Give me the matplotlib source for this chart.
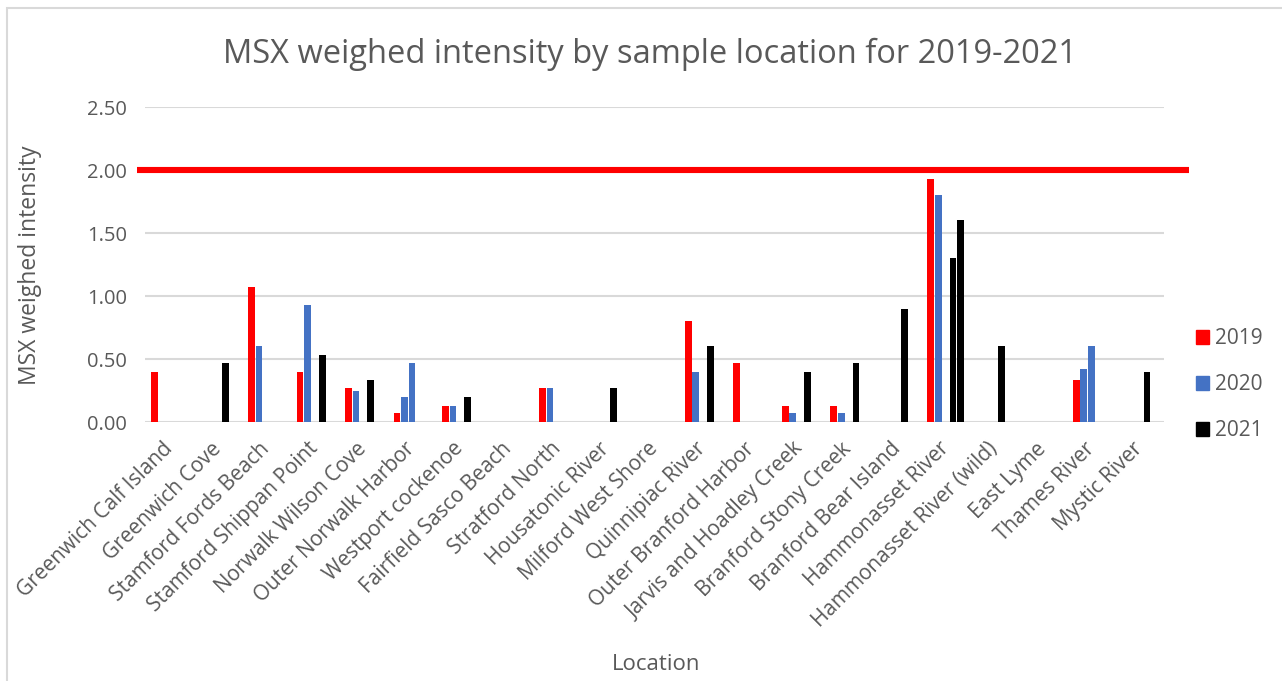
import numpy as np
import matplotlib.pyplot as plt
from matplotlib.patches import Patch, Rectangle
import matplotlib.transforms as mtransforms

plt.rcParams['font.family'] = ['Open Sans', 'DejaVu Sans']

locations = ['Greenwich Calf Island', 'Greenwich Cove', 'Stamford Fords Beach',
             'Stamford Shippan Point', 'Norwalk Wilson Cove', 'Outer Norwalk Harbor',
             'Westport cockenoe', 'Fairfield Sasco Beach', 'Stratford North',
             'Housatonic River', 'Milford West Shore', 'Quinnipiac River',
             'Outer Branford Harbor', 'Jarvis and Hoadley Creek', 'Branford Stony Creek',
             'Branford Bear Island', 'Hammonasset River', 'Hammonasset River (wild)',
             'East Lyme', 'Thames River', 'Mystic River']

# five bar series (2020 and 2021 each have a second sample column)
y2019 = [0.40, 0, 1.07, 0.40, 0.27, 0.07, 0.13, 0, 0.27, 0, 0, 0.80, 0.47, 0.13, 0.13, 0, 1.93, 0, 0, 0.33, 0]
y2020 = [0, 0, 0.60, 0.93, 0.25, 0.20, 0.13, 0, 0.27, 0, 0, 0.40, 0, 0.07, 0.07, 0, 1.80, 0, 0, 0.42, 0]
y2020b = [0, 0, 0, 0, 0, 0.47, 0, 0, 0, 0, 0, 0, 0, 0, 0, 0, 0, 0, 0, 0.60, 0]
y2021 = [0, 0.47, 0, 0.53, 0.33, 0, 0.20, 0, 0, 0.27, 0, 0.60, 0, 0.40, 0.47, 0.90, 1.30, 0.60, 0, 0, 0.40]
y2021b = [0, 0, 0, 0, 0, 0, 0, 0, 0, 0, 0, 0, 0, 0, 0, 0, 1.60, 0, 0, 0, 0]
threshold = 2.0

red = '#FF0000'
blue = '#4472C4'
black = '#000000'
txt = '#595959'
grid = '#D9D9D9'

series = [(y2019, red), (y2020, blue), (y2020b, blue), (y2021, black), (y2021b, black)]

fig = plt.figure(figsize=(12.82, 6.81), dpi=100)
ax = fig.add_axes([145/1282, 1-422/681, 1019/1282, 315/681])

x = np.arange(len(locations))
slot = 1 / 6.55
for i, (vals, c) in enumerate(series):
    ax.bar(x + (i - 2) * slot, vals, width=slot * 0.9, color=c, linewidth=0, zorder=3)

# threshold line runs a little past the plot area
trans = mtransforms.blended_transform_factory(ax.transAxes, ax.transData)
ax.plot([-8/1019, 1044/1019], [threshold, threshold], color=red, lw=4.4,
        transform=trans, clip_on=False, zorder=4, solid_capstyle='butt')

ax.set_xlim(-0.5, len(locations) - 0.5)
ax.set_ylim(0, 2.5)
ax.set_yticks(np.arange(0, 2.51, 0.5))
ax.set_yticklabels(['%.2f' % v for v in np.arange(0, 2.51, 0.5)])
ax.yaxis.grid(True, color=grid, lw=1.5, zorder=0)
ax.set_axisbelow(True)
for s in ax.spines.values():
    s.set_visible(False)
ax.tick_params(length=0, colors=txt, labelsize=14.5)
ax.tick_params(axis='y', pad=13)
ax.set_xticks(x)
ax.set_xticklabels(locations, rotation=45, ha='right', rotation_mode='anchor',
                   va='center', fontsize=15, color=txt)
ax.tick_params(axis='x', pad=17)

fig.text(650/1282, 1-54/681, 'MSX weighed intensity by sample location for 2019-2021',
         ha='center', va='center', fontsize=23.5, color=txt)
fig.text(30/1282, 1-265/681, 'MSX weighed intensity', rotation=90, ha='center',
         va='center', fontsize=16.5, color=txt)
fig.text(656/1282, 1-665/681, 'Location', ha='center', va='center', fontsize=16, color=txt)

handles = [Patch(color=red, label='2019'), Patch(color=blue, label='2020'),
           Patch(color=black, label='2021')]
fig.legend(handles=handles, loc='center left', bbox_to_anchor=(1177/1282, 1-385/681),
           frameon=False, fontsize=15, labelcolor=txt, handlelength=0.65,
           handleheight=0.65, handletextpad=0.25, labelspacing=1.2)

fig.patches.append(Rectangle((7/1282, -0.1), 1.2, 1 - 8/681 + 0.1, transform=fig.transFigure,
                             fill=False, edgecolor=grid, lw=1.5))

fig.savefig('out.png', dpi=100)
